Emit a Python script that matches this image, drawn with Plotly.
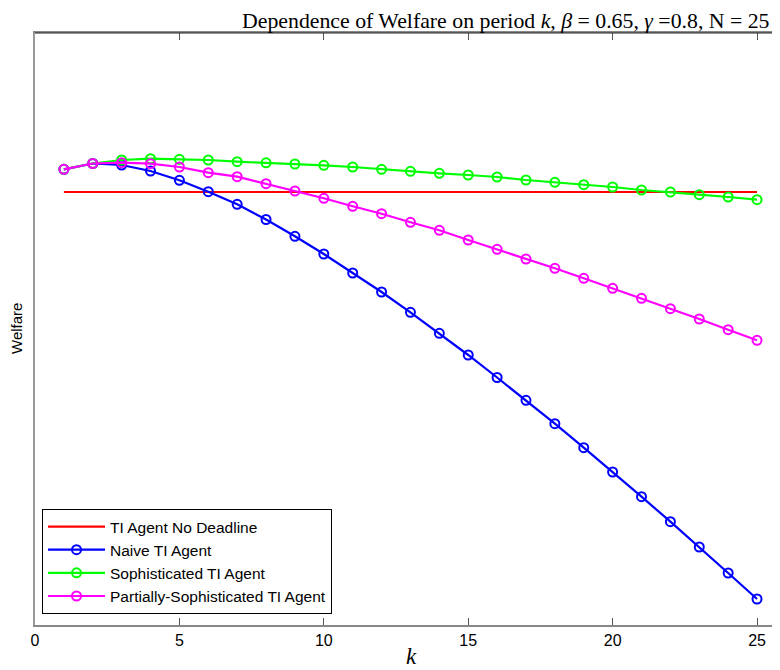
import plotly.graph_objects as go

k = list(range(1, 26))
k_nodeadline = [1, 25]
welfare_nodeadline = [433, 433]
welfare_naive = [455.7, 461.5, 460, 454, 444.7, 433.3, 420.7, 405.5, 388.7, 371, 352, 333,
                 312.7, 291.7, 270, 247.5, 224.7, 201.3, 177.3, 153, 128.3, 103.3, 78, 52, 26]
welfare_soph = [455.7, 461.5, 465, 466.3, 465.7, 465, 463.3, 462.2, 461, 459.7, 458, 455.7,
                453.7, 451.7, 450, 448, 445, 442.7, 440.3, 438, 435, 433, 430.3, 428, 425.3]
welfare_partial = [455.7, 461.5, 462.3, 461.3, 458, 452.3, 448.3, 441.3, 434, 426.7, 418.7, 411.3,
                   402.7, 394.7, 385, 375.7, 366, 356.7, 346.7, 336.7, 326.7, 316.3, 306, 295.3, 284.7]
x_ticks = [0, 5, 10, 15, 20, 25]

fig = go.Figure()
fig.add_trace(go.Scatter(x=k_nodeadline, y=welfare_nodeadline, mode="lines",
                         name="TI Agent No Deadline", line=dict(color="#ff0000", width=2.2)))
marker_style = dict(symbol="circle-open", size=9, line=dict(width=2))
fig.add_trace(go.Scatter(x=k, y=welfare_naive, mode="lines+markers", name="Naive TI Agent",
                         line=dict(color="#0000ff", width=2.2),
                         marker=dict(color="#0000ff", **marker_style)))
fig.add_trace(go.Scatter(x=k, y=welfare_soph, mode="lines+markers", name="Sophisticated TI Agent",
                         line=dict(color="#00ff00", width=2.2),
                         marker=dict(color="#00ff00", **marker_style)))
fig.add_trace(go.Scatter(x=k, y=welfare_partial, mode="lines+markers",
                         name="Partially-Sophisticated TI Agent",
                         line=dict(color="#ff00ff", width=2.2),
                         marker=dict(color="#ff00ff", **marker_style)))

serif = "Liberation Serif, Times New Roman, serif"
sans = "Liberation Sans, Arial, sans-serif"

# page body adds ~7px offset; margins compensate
fig.update_layout(
    width=780, height=670,
    margin=dict(l=27, r=7, t=25, b=53, autoexpand=False),
    paper_bgcolor="white", plot_bgcolor="white",
    font=dict(family=sans, size=16, color="black"),
    xaxis=dict(range=[0, 25.83], tickvals=x_ticks, ticktext=[str(t) for t in x_ticks],
               ticks="inside", ticklen=7, tickcolor="#555", tickwidth=1,
               showline=True, linecolor="#888", linewidth=1.5, mirror="ticks",
               showgrid=False, zeroline=False, automargin=False,
               tickfont=dict(family=sans, size=16)),
    yaxis=dict(range=[0, 592], showticklabels=False, ticks="", showgrid=False, zeroline=False,
               showline=True, linecolor="#999", linewidth=2, automargin=False),
    legend=dict(x=0.0094, y=0.0186, xanchor="left", yanchor="bottom",
                bordercolor="black", borderwidth=1, bgcolor="white",
                font=dict(family=sans, size=15.5),
                tracegroupgap=0, itemwidth=57),
    showlegend=True,
)
fig.add_shape(type="line", xref="paper", yref="paper", x0=0, x1=1, y0=1, y1=1,
              line=dict(color="#222", width=1.2))
fig.add_annotation(text="Dependence of Welfare on period <i>k</i>, <i>β</i> = 0.65, <i>γ</i> =0.8, N = 25",
                   xref="paper", yref="paper", x=(770 - 34) / 746, y=1 + 25 / 592,
                   xanchor="right", yanchor="top", showarrow=False, borderpad=0,
                   font=dict(family=serif, size=21.8, color="black"))
fig.add_annotation(text="Welfare", xref="paper", yref="paper",
                   x=(15 - 34) / 746, y=0.5, textangle=-90, xanchor="center", yanchor="middle",
                   showarrow=False, font=dict(family=sans, size=15, color="black"))
fig.add_annotation(text="<i>k</i>", xref="paper", yref="paper",
                   x=(410 - 34) / 746, y=-(655 - 624) / 592, xanchor="center", yanchor="middle",
                   showarrow=False, font=dict(family=serif, size=23, color="black"))

fig.write_html("out.html")
